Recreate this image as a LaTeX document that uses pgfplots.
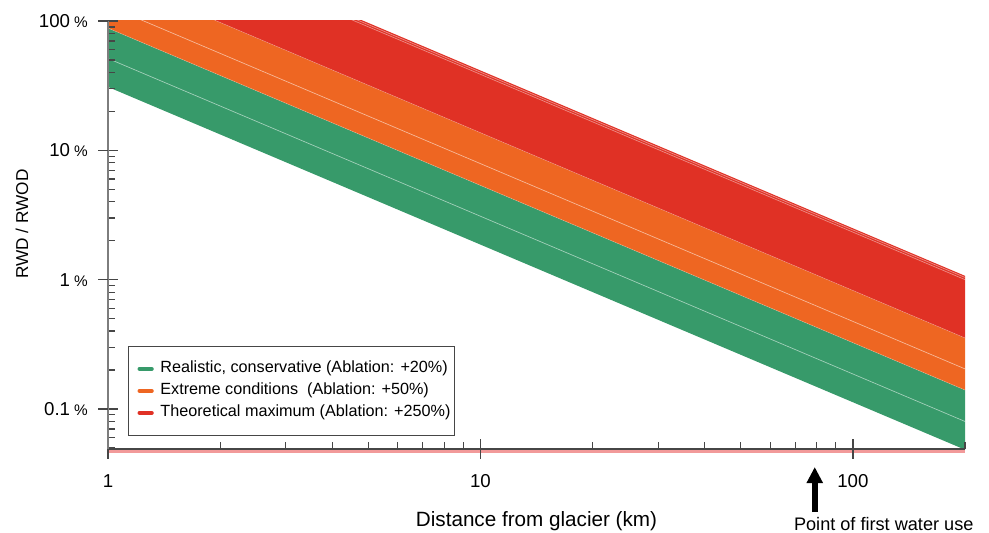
\documentclass[border=0pt]{standalone}
\usepackage{fontspec}
\setmainfont{Liberation Sans}
\usepackage{pgfplots}
\pgfplotsset{compat=1.18}
\usetikzlibrary{arrows.meta}
\definecolor{cgreen}{RGB}{55,154,106}
\definecolor{corange}{RGB}{238,102,34}
\definecolor{cred}{RGB}{224,49,37}
\definecolor{cpink}{RGB}{242,154,154}
\definecolor{axgray}{RGB}{125,125,125}
\definecolor{axdark}{RGB}{70,70,70}
\newcommand{\pct}{{\fontsize{11.5}{11.5}\selectfont\%}}
\begin{document}
\begin{tikzpicture}
\path[use as bounding box] (-81pt,-62.25pt) rectangle (660.75pt,336.75pt);
\draw[cpink, line width=2.25pt] (0pt,-1.9pt) -- (643pt,-1.9pt);
\begin{axis}[
  at={(0pt,0pt)}, anchor=south west,
  scale only axis, width=642.75pt, height=321pt,
  xmode=log, ymode=log,
  xmin=1, xmax=200, ymin=0.049, ymax=100,
  axis x line=bottom, axis y line=left,
  axis line style={-},
  x axis line style={draw=axdark, line width=1.2pt},
  y axis line style={draw=axgray, line width=1.2pt},
  axis on top,
  xtick={1,10,100}, xticklabels={1,10,100},
  minor xtick={2,3,4,5,6,7,8,9,20,30,40,50,60,70,80,90,200},
  ytick={0.1,1,10,100},
  yticklabels={0.1\hspace{3pt}\pct,1\hspace{3pt}\pct,10\hspace{3pt}\pct,100\hspace{3pt}\pct},
  minor ytick={0.05,0.06,0.07,0.08,0.09,0.2,0.3,0.4,0.5,0.6,0.7,0.8,0.9,2,3,4,5,6,7,8,9,20,30,40,50,60,70,80,90},
  tick align=inside,
  major tick length=7.5pt, minor tick length=5.25pt,
  every tick/.style={axdark, line width=0.9pt},
  extra x ticks={1,10,100}, extra x tick labels={},
  extra x tick style={tick align=outside},
  extra y ticks={0.1,1,10,100}, extra y tick labels={},
  extra y tick style={tick align=outside},
  xticklabel style={anchor=north, inner sep=0pt, yshift=-18.75pt, font=\fontsize{14}{14}\selectfont},
  yticklabel style={anchor=east, inner sep=0pt, xshift=-15pt, font=\fontsize{14}{14}\selectfont},
  xlabel={Distance from glacier (km)},
  ylabel={RWD / RWOD},
  every axis x label/.style={at={(rel axis cs:0.5,0)}, anchor=base, yshift=-57.75pt, font=\fontsize{15.5}{15.5}\selectfont},
  every axis y label/.style={at={(rel axis cs:0,0.5)}, xshift=-64.5pt, yshift=8.25pt, rotate=90, anchor=center, font=\fontsize{12.9}{12.9}\selectfont},
  legend cell align=left,
  legend style={at={(rel axis cs:0.0233,0.241)}, anchor=north west, draw=axdark, line width=0.8pt,
    inner xsep=3pt, inner ysep=10.9pt, row sep=4.5pt, column sep=5pt,
    font=\fontsize{12.15}{12.15}\selectfont,
    nodes={inner sep=0pt, text height=9pt, text depth=3pt}},
  legend image code/.code={\path (-3.75pt,0pt); \draw (0pt,0pt) -- (9pt,0pt);},
]
% bands
\addplot[fill=cgreen, draw=none, forget plot] coordinates {(1,30.9) (200,0.0484) (200,0.140) (1,88.1)} -- cycle;
\addplot[fill=corange, draw=none, forget plot] coordinates {(1,88.1) (200,0.140) (200,0.354) (1,227)} -- cycle;
\addplot[fill=cred, draw=none, forget plot] coordinates {(1,227) (200,0.354) (200,1.07) (1,689)} -- cycle;
% thin white lines
\addplot[white, opacity=0.55, line width=0.5pt, forget plot] coordinates {(1,51.3) (200,0.080)};
\addplot[white, opacity=0.55, line width=0.5pt, forget plot] coordinates {(1,131) (200,0.204)};
\addplot[white, opacity=0.45, line width=0.5pt, forget plot] coordinates {(1,643) (200,1.00)};
\addplot[white, opacity=0.45, line width=0.5pt, forget plot] coordinates {(1,668) (200,1.04)};
\addplot[white, opacity=0.3, line width=0.4pt, forget plot] coordinates {(1,88.1) (200,0.140)};
\addplot[white, opacity=0.3, line width=0.4pt, forget plot] coordinates {(1,227) (200,0.354)};
\addlegendimage{cgreen, line width=3.2pt, line cap=round}
\addlegendentry{Realistic, conservative (Ablation: +20\%)}
\addlegendimage{corange, line width=3.2pt, line cap=round}
\addlegendentry{Extreme conditions\ \ (Ablation: +50\%)}
\addlegendimage{cred, line width=3.2pt, line cap=round}
\addlegendentry{Theoretical maximum (Ablation: +250\%)}
\coordinate (fw) at (axis cs:79,0.049);
\end{axis}
\draw[black, line width=4.2pt, -{Triangle[length=12pt,width=11.5pt]}] ([yshift=-47.25pt]fw) -- ([yshift=-13.5pt]fw);
\node[anchor=base, inner sep=0pt, font=\fontsize{13.6}{13.6}\selectfont] at ([xshift=51.75pt, yshift=-60.75pt]fw) {Point of first water use};
\end{tikzpicture}
\end{document}
